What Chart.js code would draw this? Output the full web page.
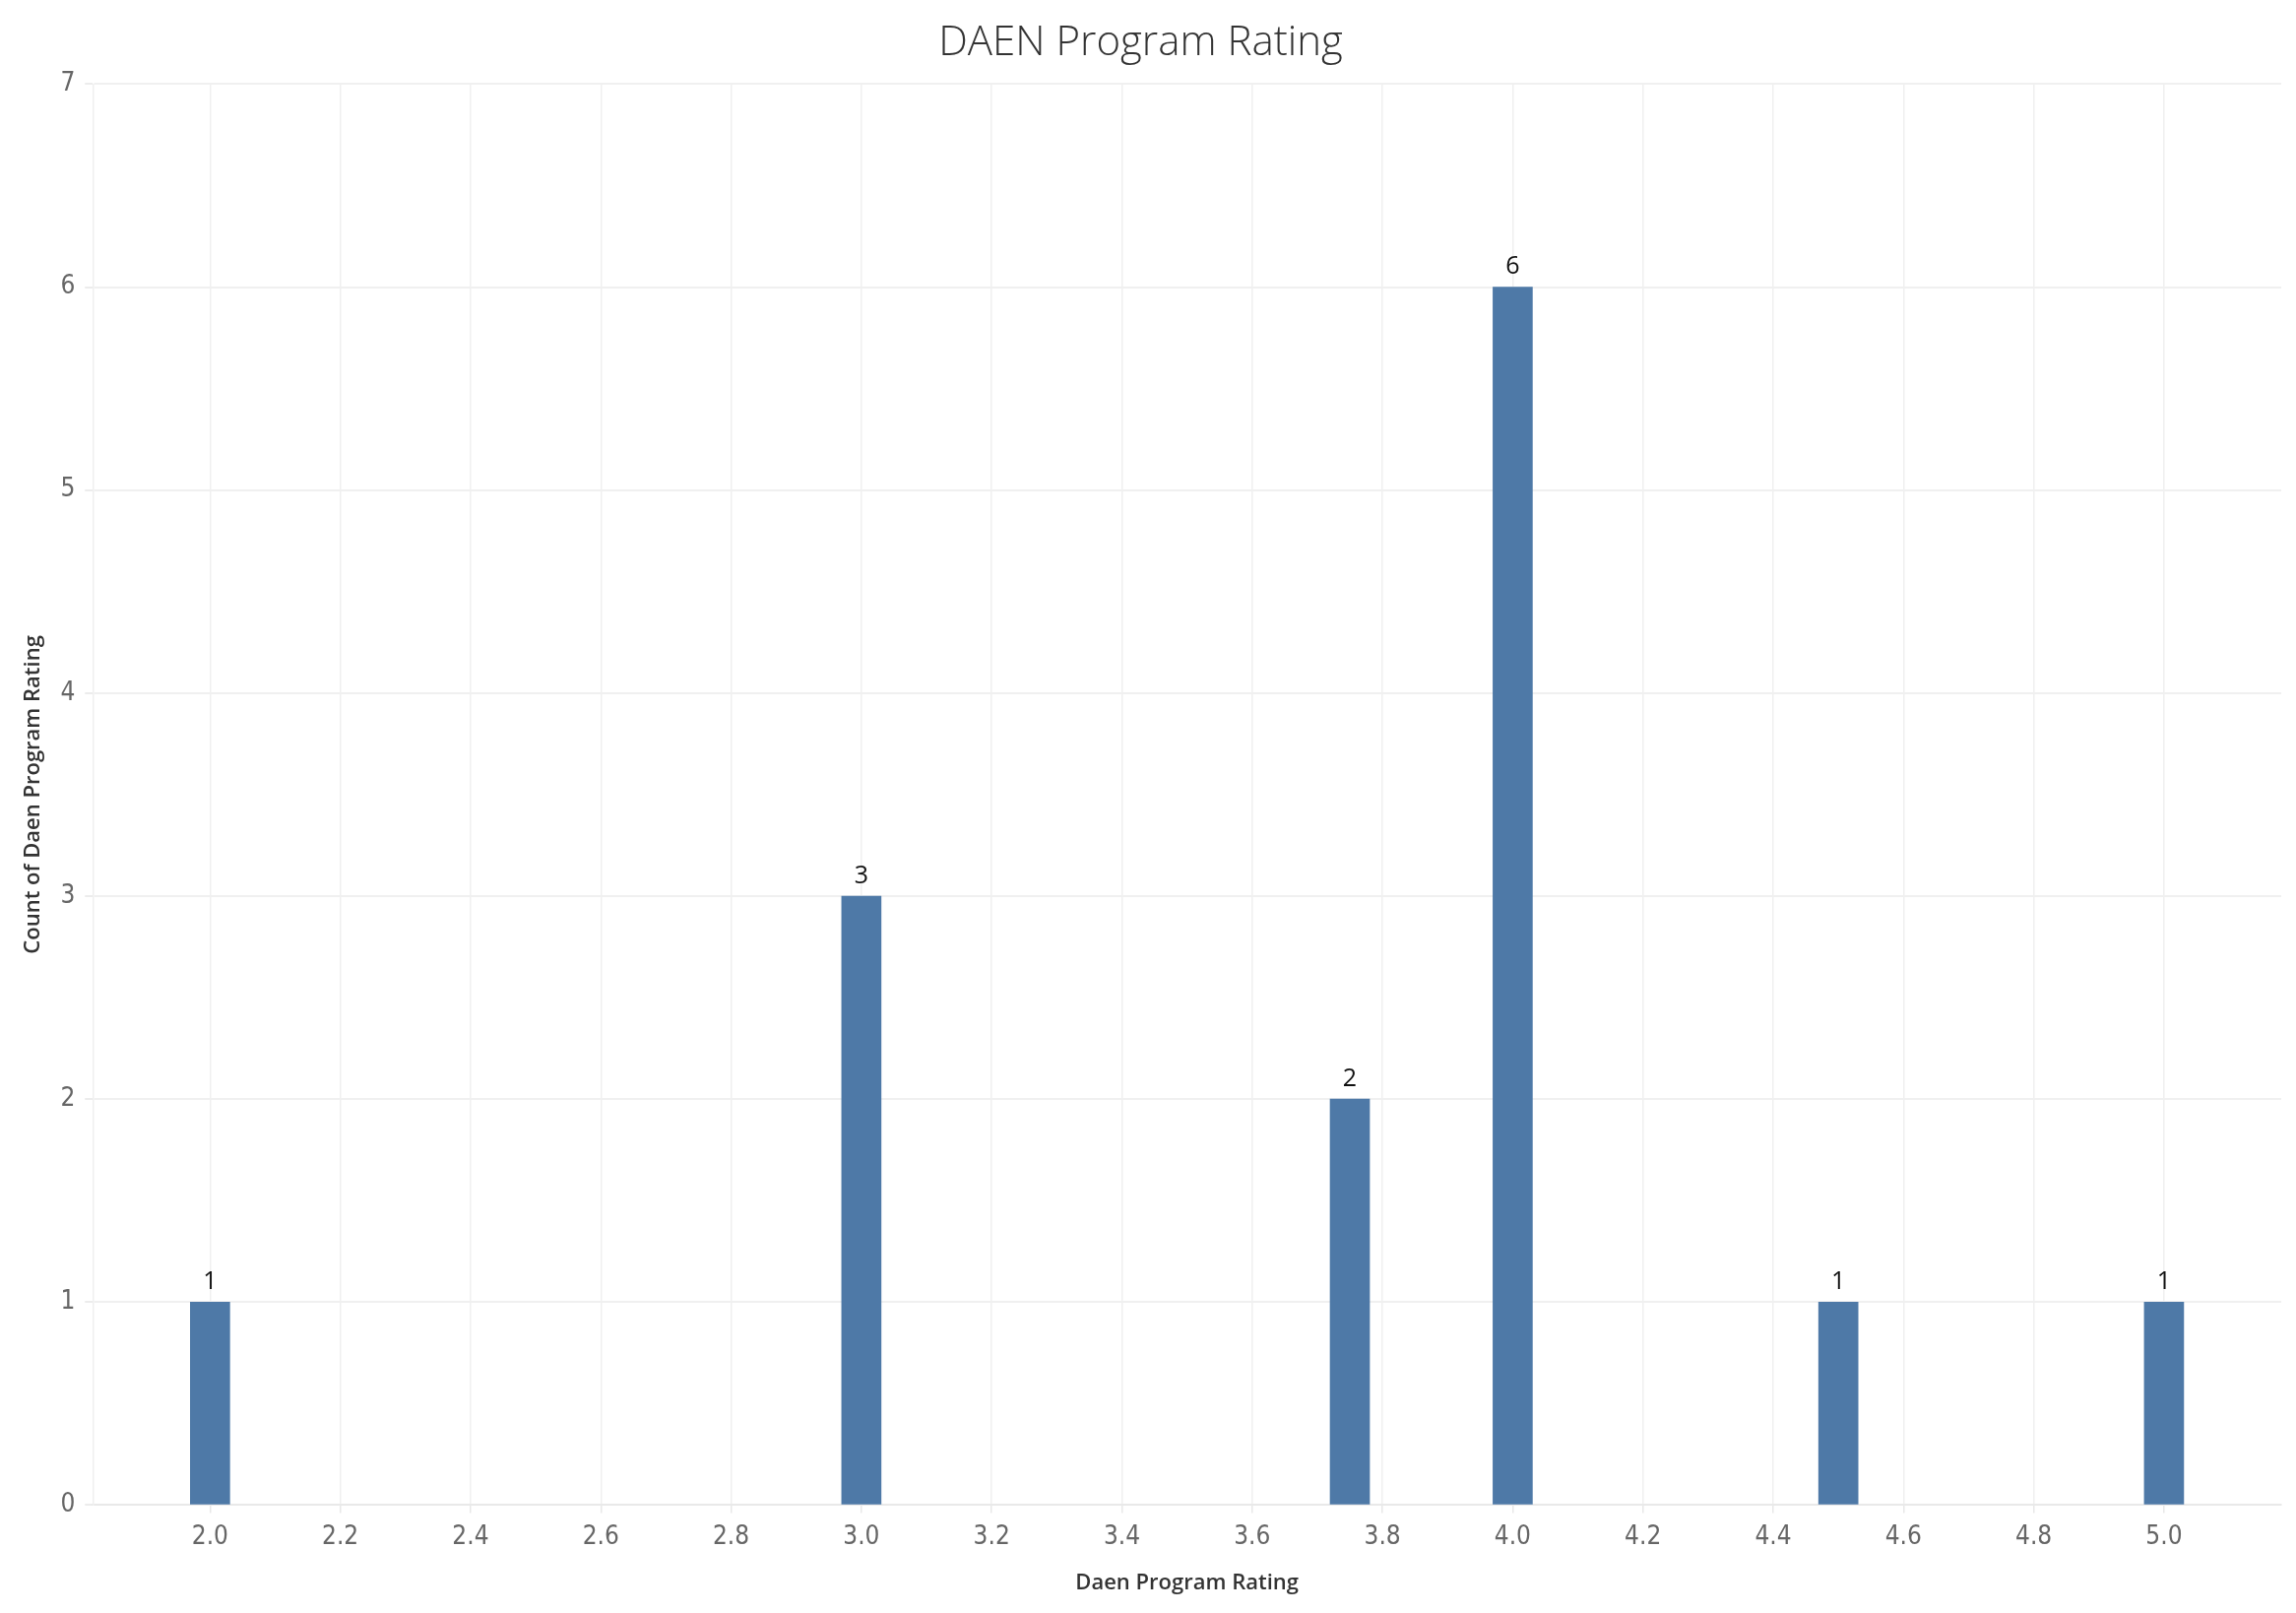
<!DOCTYPE html>
<html>
<head>
<meta charset="utf-8">
<script src="https://cdn.jsdelivr.net/npm/chart.js@4.4.1/dist/chart.umd.min.js"></script>
<style>
  html, body { margin: 0; padding: 0; background: #fff; }
  #wrap { width: 2332px; height: 1638px; position: relative; }
</style>
</head>
<body>
<div id="wrap"><canvas id="ratingChart"></canvas></div>
<script>
// Count of responses per DAEN program rating
var ratings = [2.0, 3.0, 3.75, 4.0, 4.5, 5.0];
var counts = [1, 3, 2, 6, 1, 1];

// Axis ticks as shown in the picture
var xTickLabels = ['2.0', '2.2', '2.4', '2.6', '2.8', '3.0', '3.2', '3.4',
                   '3.6', '3.8', '4.0', '4.2', '4.4', '4.6', '4.8', '5.0'];
var yTickLabels = [0, 1, 2, 3, 4, 5, 6, 7];

var tickFont = '"Liberation Sans Narrow", "DejaVu Sans Condensed", sans-serif';
var mainFont = '"Open Sans", "Noto Sans", sans-serif';

// draws the count above each bar
var valueLabels = {
    id: 'valueLabels',
    afterDatasetsDraw: function (chart) {
        var ctx = chart.ctx;
        var meta = chart.getDatasetMeta(0);
        ctx.save();
        ctx.font = '25px ' + mainFont;
        ctx.fillStyle = '#111';
        ctx.textAlign = 'center';
        ctx.textBaseline = 'bottom';
        meta.data.forEach(function (bar, i) {
            ctx.fillText(String(counts[i]), bar.x, bar.y - 8);
        });
        ctx.restore();
    }
};

var ctx = document.getElementById('ratingChart').getContext('2d');
var ratingChart = new Chart(ctx, {
    type: 'bar',
    data: {
        datasets: [{
            label: 'Count of Daen Program Rating',
            data: ratings.map(function (r, i) { return { x: r, y: counts[i] }; }),
            backgroundColor: '#4e79a7',
            borderWidth: 0,
            barThickness: 40
        }]
    },
    options: {
        responsive: true,
        maintainAspectRatio: false,
        animation: false,
        layout: { padding: { left: 0, right: 15, top: 0, bottom: 0 } },
        plugins: {
            legend: { display: false },
            tooltip: { enabled: false },
            title: {
                display: true,
                text: 'DAEN Program Rating',
                color: '#333',
                font: { family: mainFont, size: 42, weight: '300', lineHeight: 1.2 },
                padding: { top: 19, bottom: 16 }
            }
        },
        scales: {
            x: {
                type: 'linear',
                offset: false,
                min: 1.82,
                max: 5.18,
                afterBuildTicks: function (scale) {
                    scale.ticks = xTickLabels.map(function (t) { return { value: parseFloat(t) }; });
                },
                ticks: {
                    color: '#666',
                    padding: 9,
                    font: { family: tickFont, size: 26 },
                    callback: function (value) { return Number(value).toFixed(1); }
                },
                grid: {
                    offset: false,
                    color: '#f0f0f0',
                    lineWidth: 1.5,
                    drawTicks: true,
                    tickLength: 8,
                    tickColor: '#e8e8e8'
                },
                border: { color: '#e9e9e9', width: 2 },
                title: {
                    display: true,
                    text: 'Daen Program Rating',
                    color: '#333',
                    font: { family: mainFont, size: 22, weight: '600', lineHeight: 1.2 },
                    padding: { top: 9, bottom: 17 }
                }
            },
            y: {
                min: 0,
                max: 7,
                afterBuildTicks: function (scale) {
                    scale.ticks = yTickLabels.map(function (t) { return { value: t }; });
                },
                ticks: {
                    color: '#666',
                    padding: 10,
                    font: { family: tickFont, size: 26 }
                },
                grid: {
                    color: '#f0f0f0',
                    lineWidth: 2,
                    tickLength: 8,
                    tickColor: '#ececec'
                },
                border: { color: '#f0f0f0', width: 1.5 },
                title: {
                    display: true,
                    text: 'Count of Daen Program Rating',
                    color: '#333',
                    font: { family: mainFont, size: 22, weight: '600', lineHeight: 1.2 },
                    padding: { top: 21, bottom: 4 }
                }
            }
        }
    },
    plugins: [valueLabels]
});
</script>
</body>
</html>
